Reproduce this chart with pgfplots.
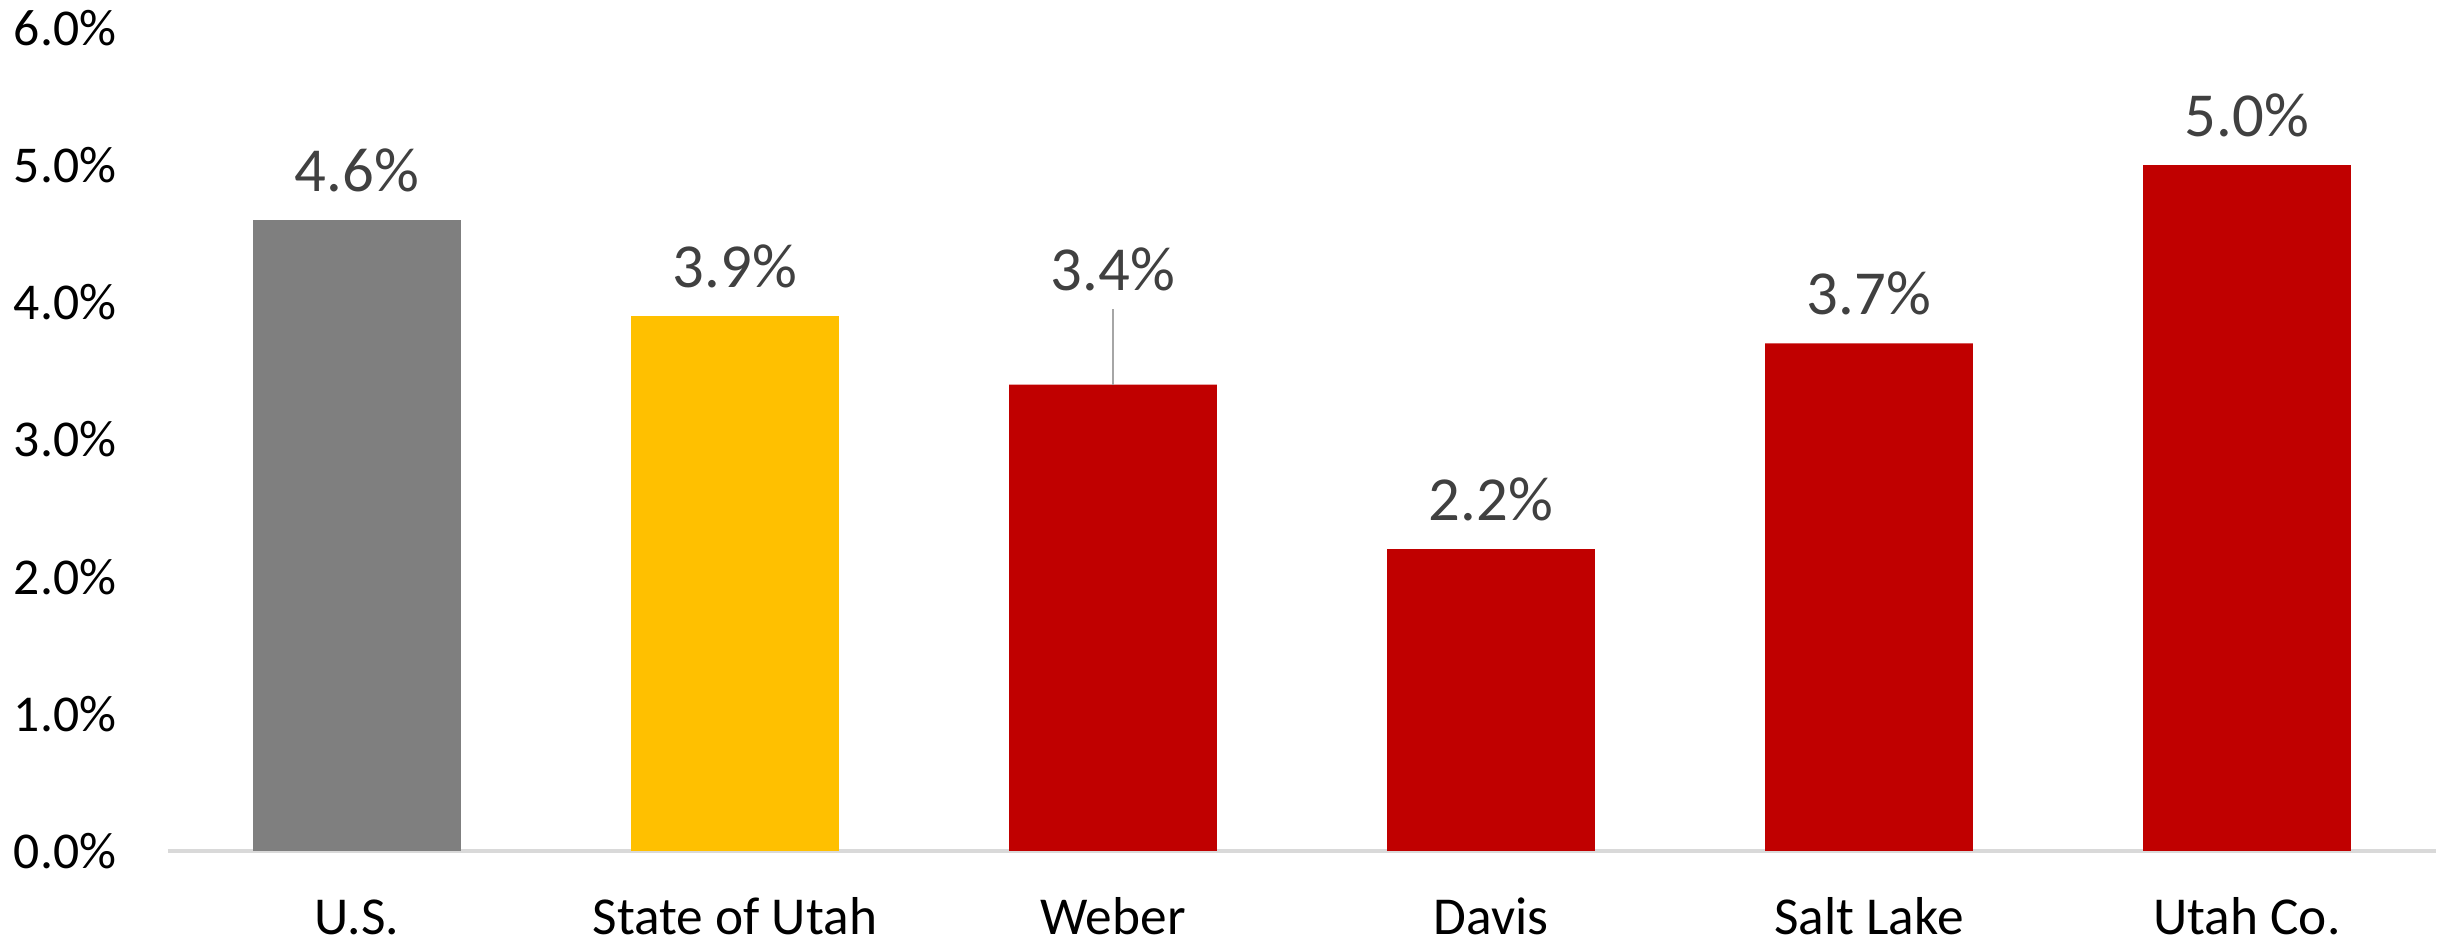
\documentclass[border=0pt]{standalone}
\usepackage{pgfplots}
\pgfplotsset{compat=1.18}
\usepackage{fontspec}
\setmainfont{Carlito}
\definecolor{usgray}{HTML}{7F7F7F}
\definecolor{utyellow}{HTML}{FFC000}
\definecolor{utred}{HTML}{C00000}
\definecolor{lblgray}{HTML}{404040}
\definecolor{axgray}{HTML}{D9D9D9}
\definecolor{leader}{HTML}{A6A6A6}
\begin{document}
\begin{tikzpicture}
\useasboundingbox (-50.4pt,-27.6pt) rectangle (686.1pt,255.3pt);
\begin{axis}[
  scale only axis,
  width=680.4pt, height=246.9pt,
  xmin=-0.5, xmax=5.5, ymin=0, ymax=6,
  ybar, bar width=0.55, bar shift=0pt,
  axis lines*=left,
  y axis line style={draw=none},
  x axis line style={draw=axgray, line width=1pt, -},
  major tick length=0pt,
  xtick={0,1,2,3,4,5},
  xticklabels={U.S., State of Utah, Weber, Davis, Salt Lake, Utah Co.},
  xticklabel style={anchor=base, inner sep=0pt, yshift=-25pt, font=\fontsize{16}{19}\selectfont, text=black},
  ytick={0,1,2,3,4,5,6},
  yticklabels={0.0\%,1.0\%,2.0\%,3.0\%,4.0\%,5.0\%,6.0\%},
  yticklabel style={anchor=east, inner sep=0pt, xshift=-15.3pt, font=\fontsize{15.5}{18}\selectfont, text=black},
  nodes near coords={\pgfmathprintnumber[fixed,fixed zerofill,precision=1,assume math mode=true]{\pgfplotspointmeta}\%},
  nodes near coords style={anchor=base, inner sep=0pt, text=lblgray, font=\fontsize{18.8}{22}\selectfont},
  clip=false,
]
\addplot[fill=usgray, draw=none, nodes near coords style={yshift=8.7pt}] coordinates {(0,4.6)};
\addplot[fill=utyellow, draw=none, nodes near coords style={yshift=8.7pt}] coordinates {(1,3.9)};
\addplot[fill=utred, draw=none,
  visualization depends on={\thisrow{lift} \as \lift},
  nodes near coords style={yshift={(8.7+\lift)*1pt}}] table {
x y lift
2 3.4 19.4
3 2.2 0
4 3.7 0
5 5.0 0
};
\addplot[sharp plot, draw=leader, line width=0.6pt, nodes near coords={}, forget plot] coordinates {(2,3.4) (2,3.95)};
\end{axis}
\end{tikzpicture}
\end{document}
